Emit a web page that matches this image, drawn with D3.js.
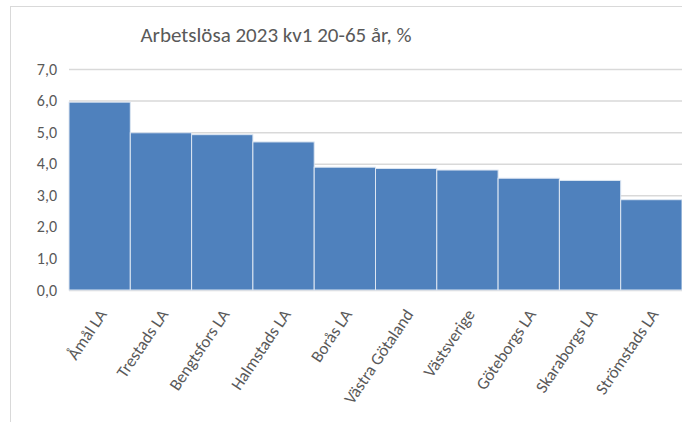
<!DOCTYPE html>
<html lang="sv">
<head>
<meta charset="UTF-8">
<title>Arbetslösa 2023 kv1</title>
<script src="https://d3js.org/d3.v7.min.js"></script>
<style>
  body { margin: 0; background: #fff; }
  text { font-family: Calibri, Carlito, Lato, sans-serif; }
</style>
</head>
<body>
<script>
  // data
  const categories = ['Åmål LA', 'Trestads LA', 'Bengtsfors LA', 'Halmstads LA', 'Borås LA',
                      'Västra Götaland', 'Västsverige', 'Göteborgs LA', 'Skaraborgs LA', 'Strömstads LA'];
  const values = [5.95, 4.98, 4.92, 4.69, 3.89, 3.85, 3.80, 3.54, 3.47, 2.86];
  const yTicks = [0, 1, 2, 3, 4, 5, 6, 7];
  const title = 'Arbetslösa 2023 kv1 20-65 år, %';

  const W = 682, H = 422;
  const plot = { left: 69, right: 682, top: 69, bottom: 290 };

  const svg = d3.select('body').append('svg')
      .attr('width', W)
      .attr('height', H);

  // chart frame (runs off the right and bottom edges)
  svg.append('rect')
      .attr('x', 10.5).attr('y', 6.5)
      .attr('width', W + 20).attr('height', H + 20)
      .attr('fill', '#fff')
      .attr('stroke', '#d9d9d9');

  svg.append('text')
      .attr('x', 276).attr('y', 42)
      .attr('text-anchor', 'middle')
      .attr('font-size', 21)
      .attr('fill', '#595959')
      .text(title);

  const x = d3.scaleBand()
      .domain(categories)
      .range([plot.left, plot.right])
      .padding(0);

  const y = d3.scaleLinear()
      .domain([0, 7])
      .range([plot.bottom, plot.top]);

  const sv = d3.formatLocale({ decimal: ',', thousands: ' ', grouping: [3], currency: ['', ' kr'] });
  const fmt = sv.format('.1f');

  // gridlines + y labels
  const yAxis = svg.append('g')
      .attr('transform', `translate(${plot.left},0)`)
      .call(d3.axisLeft(y).tickValues(yTicks).tickFormat(fmt)
          .tickSize(-(plot.right - plot.left)).tickPadding(12));
  yAxis.select('.domain').remove();
  yAxis.selectAll('.tick line').attr('stroke', '#d9d9d9').attr('stroke-width', 1.5);
  yAxis.selectAll('.tick text')
      .attr('fill', '#595959')
      .attr('font-size', 16);

  // bars
  svg.selectAll('rect.bar')
      .data(values)
      .enter().append('rect')
      .attr('class', 'bar')
      .attr('x', (d, i) => x(categories[i]))
      .attr('y', d => y(d))
      .attr('width', x.bandwidth())
      .attr('height', d => y(0) - y(d))
      .attr('fill', '#4f81bd')
      .attr('stroke', '#dde6f2')
      .attr('stroke-width', 1);

  // category labels
  svg.selectAll('text.cat')
      .data(categories)
      .enter().append('text')
      .attr('class', 'cat')
      .attr('transform', d => `translate(${x(d) + x.bandwidth() / 2 + 3},311) rotate(-56)`)
      .attr('text-anchor', 'end')
      .attr('dy', '0.35em')
      .attr('font-size', 17)
      .attr('fill', '#595959')
      .text(d => d);
</script>
</body>
</html>
